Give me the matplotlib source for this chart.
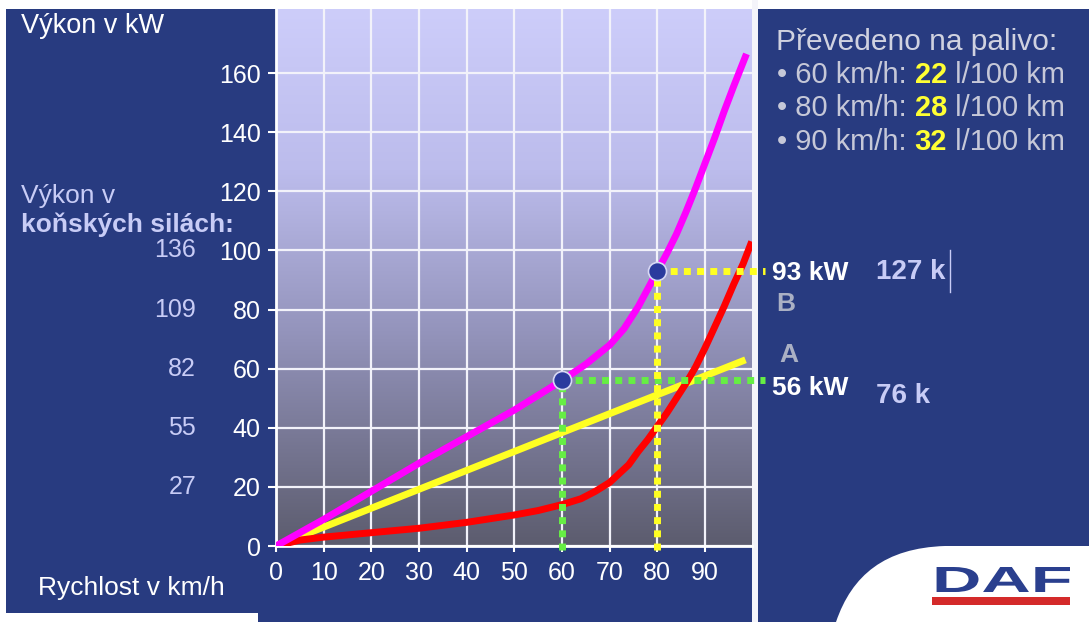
import matplotlib
matplotlib.use("Agg")
import numpy as np
import matplotlib.pyplot as plt
import matplotlib.transforms as mtransforms
from matplotlib.patches import Rectangle, PathPatch
from matplotlib.path import Path
from matplotlib.textpath import TextPath
from matplotlib.font_manager import FontProperties
from matplotlib.lines import Line2D

# ---------------- data ----------------
speed_ticks = [0, 10, 20, 30, 40, 50, 60, 70, 80, 90]
power_ticks = [0, 20, 40, 60, 80, 100, 120, 140, 160]
hp_at_kw = [20, 40, 60, 80, 100]
hp_labels = ["27", "55", "82", "109", "136"]

# curve B (magenta)
speed_b = [0, 10, 20, 30, 40, 50, 60, 65, 70, 73, 76, 78, 80, 82, 84, 86, 88,
           90, 92, 94, 96, 98.7]
power_b = [0, 9, 18.5, 28, 37, 46, 56, 61.5, 68, 73.5, 81, 87, 93, 99, 105.5,
           113, 121, 129.5, 138, 147, 155.5, 166.5]

# curve A (yellow)
speed_a = [0, 98.5]
power_a = [0, 63]

# red curve
speed_r = [0, 5, 10, 20, 30, 40, 50, 55, 60, 64, 67, 70, 72, 74, 76, 78, 80,
           82, 84, 86, 88, 90, 92, 94, 96, 98, 99.8]
power_r = [0, 2, 3, 4.5, 6, 8, 10.5, 12, 14, 16, 18.5, 21.5, 24.5, 27.5, 32, 36,
           40.5, 45, 50, 55, 60.5, 67, 74, 81, 88.5, 95.5, 103]

# operating points
op_speed = [60, 80]
op_power = [56, 93]
op_colors = ["#66ee44", "#ffff22"]
op_kw_labels = ["56 kW", "93 kW"]
op_hp_labels = ["76 k", "127 k"]

fuel_speeds = ["60 km/h", "80 km/h", "90 km/h"]
fuel_use = ["22", "28", "32"]

# ---------------- style ----------------
W, H = 1089, 622
NAVY = "#283b80"
LAV = "#c8ccf6"
FONT = ["Liberation Sans", "DejaVu Sans"]
plt.rcParams["font.family"] = FONT

fig = plt.figure(figsize=(W / 100, H / 100), dpi=100)
fig.patch.set_facecolor(NAVY)


def fx(x):
    return x / W


def fy(y):
    return 1 - y / H


def frect(x0, y0, x1, y1, color, z=-1):
    fig.add_artist(Rectangle((fx(x0), fy(y1)), (x1 - x0) / W, (y1 - y0) / H,
                             transform=fig.transFigure, facecolor=color,
                             edgecolor="none", zorder=z))


# white frame pieces and the divider bar
frect(0, 0, W, 9, "white")
frect(0, 0, 6, H, "white")
frect(0, 613, 258, H, "white")
frect(752, 0, 758, H, "#f4f4fa")

# ---------------- axes ----------------
ax = fig.add_axes([fx(276), fy(546), (752 - 276) / W, (546 - 9) / H])
ax.set_zorder(1)
xmax, ymax = 99.86, 181.7

# vertical gradient background
stops = np.array([0.0, 0.3, 0.6, 1.0])
cols = np.array([[205, 205, 250], [188, 188, 236], [148, 148, 188], [92, 92, 110]]) / 255
t = np.linspace(0, 1, 256)
grad = np.stack([np.interp(t, stops, cols[:, i]) for i in range(3)], axis=-1)[:, None, :]
ax.imshow(grad, extent=[0, xmax, 0, ymax], aspect="auto", origin="upper", zorder=0)

ax.set_xlim(0, xmax)
ax.set_ylim(0, ymax)
ax.set_xticks(speed_ticks)
ax.set_yticks(power_ticks)
ax.grid(True, color="#f2f2fa", lw=1.6)
for s in ["top", "right"]:
    ax.spines[s].set_visible(False)
for s in ["left", "bottom"]:
    ax.spines[s].set_color("white")
    ax.spines[s].set_linewidth(2)
ax.tick_params(axis="both", colors="white", labelsize=18, width=1.5)
ax.tick_params(axis="x", length=4.5, pad=6)
ax.tick_params(axis="y", length=6, pad=5)
for lab in ax.get_xticklabels() + ax.get_yticklabels():
    lab.set_color("white")

# curves
ax.plot(speed_a, power_a, color="#ffff22", lw=5, solid_capstyle="butt",
        solid_joinstyle="round", zorder=3)
ax.plot(speed_r, power_r, color="#ff0000", lw=5, solid_capstyle="butt",
        solid_joinstyle="round", zorder=3.2)
ax.plot(speed_b, power_b, color="#ff00ff", lw=5, solid_capstyle="butt",
        solid_joinstyle="round", zorder=3.4)

# dotted guides from operating points
x_end = 102.6
for sp, pw, c in zip(op_speed, op_power, op_colors):
    kw = dict(color=c, lw=5, linestyle=(0, (1, 0.9)), dash_capstyle="butt",
              clip_on=False, zorder=4)
    ax.plot([sp, sp], [-1.5, pw], **kw)
    ax.plot([sp, x_end], [pw, pw], **kw)
ax.plot(op_speed, op_power, "o", ms=13, mfc="#2b3a9e", mec="#d8d8f4", mew=1.2,
        zorder=5, clip_on=False)

# horsepower scale beside kW ticks
hp_tr = mtransforms.blended_transform_factory(fig.transFigure, ax.transData)
for v, lab in zip(hp_at_kw, hp_labels):
    ax.text(fx(196), v, lab, transform=hp_tr, ha="right", va="center",
            fontsize=18, color=LAV, clip_on=False)

# ---------------- texts ----------------
fig.text(fx(21), fy(33), "Výkon v kW", fontsize=19.5, color="white", va="baseline")
fig.text(fx(21), fy(203), "Výkon v", fontsize=19, color=LAV, va="baseline")
fig.text(fx(21), fy(232), "koňských silách:", fontsize=19, color=LAV,
         fontweight="bold", va="baseline")
fig.text(fx(38), fy(595), "Rychlost v km/h", fontsize=19, color="white", va="baseline")

# point labels
kw_base = [395, 280]
hp_base = [403, 279]
for lab, b in zip(op_kw_labels, kw_base):
    fig.text(fx(772), fy(b), lab, fontsize=19, color="white", fontweight="bold",
             va="baseline")
for lab, b in zip(op_hp_labels, hp_base):
    fig.text(fx(876), fy(b), lab, fontsize=20, color=LAV, fontweight="bold",
             va="baseline")
fig.add_artist(Line2D([fx(950), fx(950)], [fy(250), fy(292)], color=LAV, lw=1,
                      transform=fig.transFigure))
fig.text(fx(776), fy(311), "B", fontsize=19, color="#aab0c4", fontweight="bold",
         va="baseline")
fig.text(fx(779), fy(362), "A", fontsize=19, color="#aab0c4", fontweight="bold",
         va="baseline")

# fuel consumption block (mixed runs placed one after another)
renderer = fig.canvas.get_renderer()


def run_width(s, **kw):
    a = fig.text(0, 0, "|" + s + "|", **kw)
    b = fig.text(0, 0, "||", **kw)
    w = a.get_window_extent(renderer).width - b.get_window_extent(renderer).width
    a.remove()
    b.remove()
    return w


def draw_runs(x_px, base_px, runs, size):
    x = x_px
    for s, color, weight in runs:
        kw = dict(fontsize=size, fontweight=weight)
        fig.text(fx(x), fy(base_px), s, color=color, va="baseline", **kw)
        x += run_width(s, **kw)


GRAY = "#c6c8d8"
fig.text(fx(776), fy(50), "Převedeno na palivo:", fontsize=21.5, color="#d0d2e0",
         va="baseline")
for i, (sp, fu) in enumerate(zip(fuel_speeds, fuel_use)):
    draw_runs(777, 83 + 33.5 * i,
              [("• " + sp + ": ", GRAY, "normal"),
               (fu, "#ffff33", "bold"),
               (" l/100 km", GRAY, "normal")], 21)

# ---------------- logo corner ----------------
corner = Path([(fx(836), fy(H)), (fx(852), fy(575)), (fx(885), fy(548)),
               (fx(945), fy(546)), (fx(W), fy(546)), (fx(W), fy(H)), (fx(836), fy(H))],
              [Path.MOVETO, Path.CURVE4, Path.CURVE4, Path.CURVE4,
               Path.LINETO, Path.LINETO, Path.CLOSEPOLY])
fig.add_artist(PathPatch(corner, transform=fig.transFigure, facecolor="white",
                         edgecolor="none", zorder=2))

tp = TextPath((0, 0), "DAF", prop=FontProperties(family="Liberation Sans", weight="bold"))
v = tp.vertices.copy()
x0, y0 = v.min(axis=0)
x1, y1 = v.max(axis=0)
lx0, lx1, ltop, lbot = 932, 1070, 567, 592
px_x = lx0 + (v[:, 0] - x0) / (x1 - x0) * (lx1 - lx0)
px_y = lbot - (v[:, 1] - y0) / (y1 - y0) * (lbot - ltop)
logo = Path(np.column_stack([fx(px_x), fy(px_y)]), tp.codes)
fig.add_artist(PathPatch(logo, transform=fig.transFigure, facecolor="#2a3f8e",
                         edgecolor="none", zorder=3))
frect(932, 597, 1070, 605, "#d42a2a", z=3)

fig.savefig("out.png", dpi=100, facecolor=fig.get_facecolor())
